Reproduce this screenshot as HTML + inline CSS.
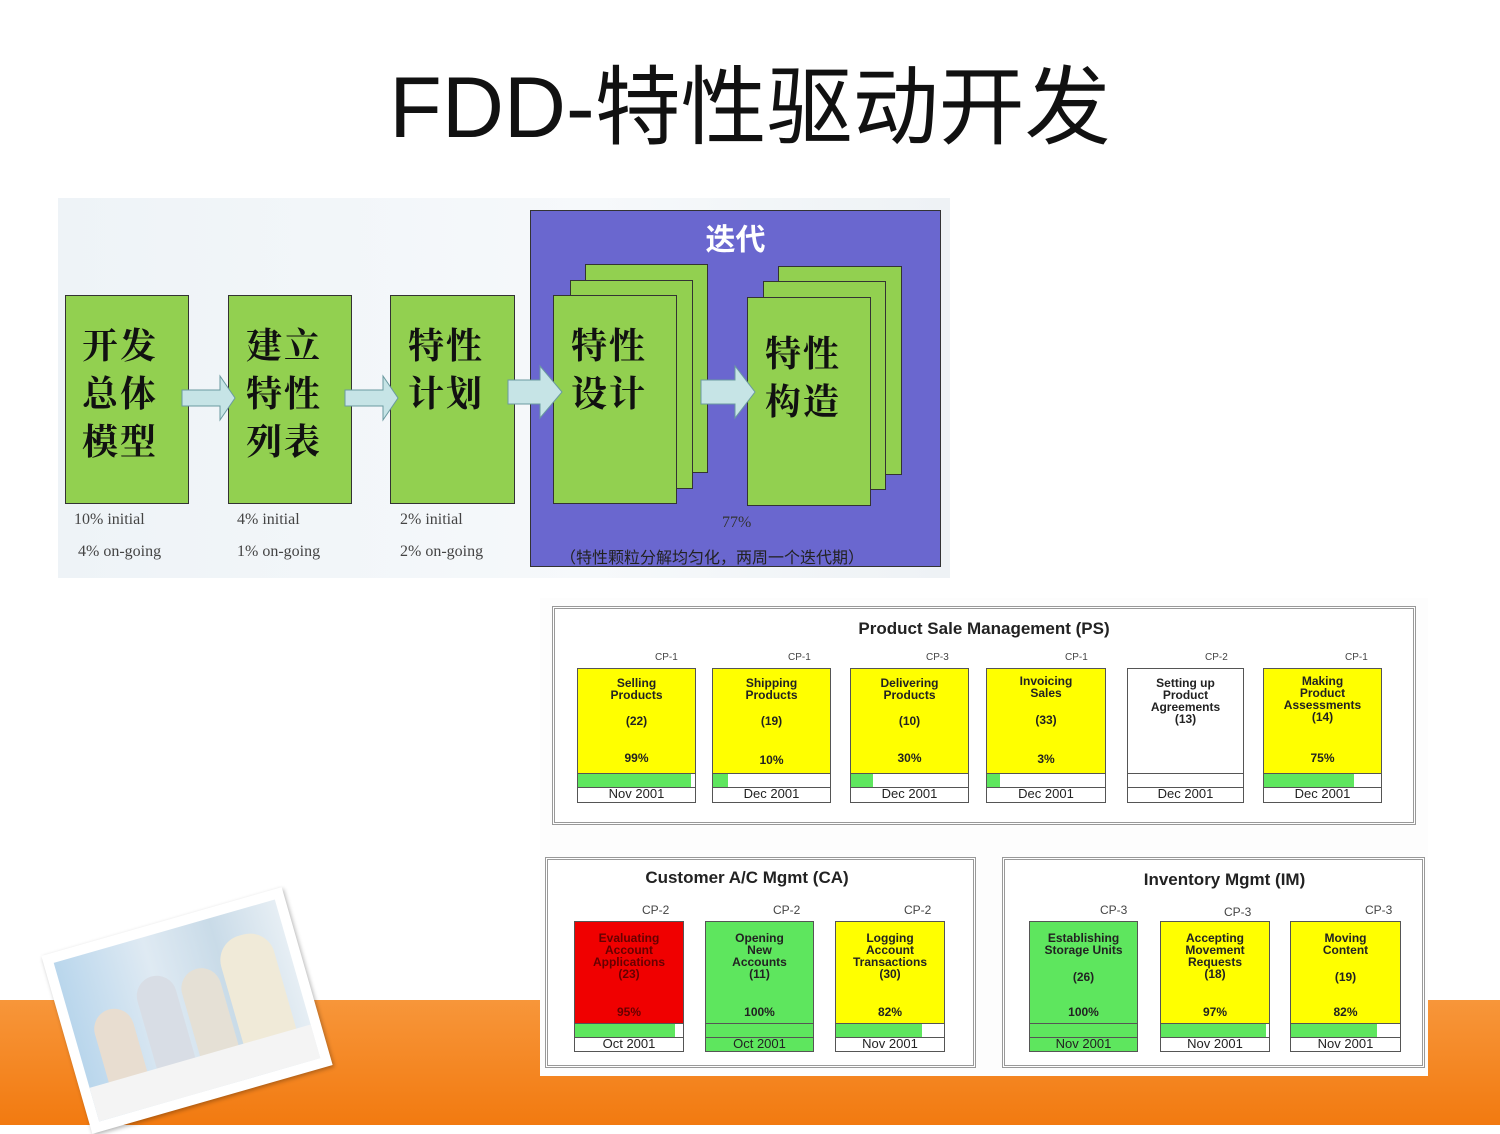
<!DOCTYPE html>
<html><head><meta charset="utf-8"><style>
*{margin:0;padding:0;box-sizing:border-box}
body{width:1500px;height:1125px;position:relative;overflow:hidden;background:#fff;font-family:"Liberation Sans","Noto Sans CJK SC",sans-serif}
.a{position:absolute}
.g{position:absolute;background:#92d050;border:1.5px solid #333}
.zh{font-family:"Noto Serif CJK SC","Liberation Serif",serif;font-weight:bold;font-size:36px;line-height:48px;color:#111;letter-spacing:2px}
.ser{font-family:"Liberation Serif",serif;font-size:16px;color:#444}
.card{position:absolute;border:1px solid #555;font-family:"Liberation Sans Narrow","Liberation Sans",sans-serif;font-weight:bold;font-size:12px;color:#222;text-align:center;line-height:12px}
.card .t{position:absolute;left:0;right:0}
.card .bar{position:absolute;left:0;right:0;background:#fff;border-top:1px solid #555}
.card .bar i{position:absolute;left:0;top:0;bottom:0;background:#5ee65e;display:block}
.card .d{position:absolute;left:0;right:0;bottom:0;background:#fff;border-top:1px solid #555;font-weight:normal;font-size:13px}
.cp{position:absolute;font-size:10px;color:#444;font-family:"Liberation Sans Narrow","Liberation Sans",sans-serif}
.arr{position:absolute}
</style></head><body>
<div class="a" style="left:0;top:1000px;width:1500px;height:125px;background:linear-gradient(#f7963a,#f27a10)"></div>
<div class="a" style="left:0;top:58px;width:1500px;text-align:center;font-size:86px;color:#111;font-family:'Liberation Sans','Noto Sans CJK SC',sans-serif;line-height:100px">FDD-特性驱动开发</div>

<!-- top diagram -->
<div class="a" style="left:58px;top:198px;width:892px;height:380px;background:linear-gradient(90deg,#eef3f7,#f6f9fb 60%,#eef2f5)"></div>
<div class="a" style="left:530px;top:210px;width:411px;height:357px;background:#6a67cf;border:1.5px solid #333"></div>
<div class="a" style="left:530px;top:215px;width:411px;text-align:center;color:#fff;font-size:30px;font-weight:bold">迭代</div>
<div class="g" style="left:65px;top:295px;width:124px;height:209px"></div>
<div class="g" style="left:228px;top:295px;width:124px;height:209px"></div>
<div class="g" style="left:390px;top:295px;width:125px;height:209px"></div>
<div class="g" style="left:585px;top:264px;width:123px;height:209px"></div>
<div class="g" style="left:570px;top:280px;width:123px;height:209px"></div>
<div class="g" style="left:553px;top:295px;width:124px;height:209px"></div>
<div class="g" style="left:778px;top:266px;width:124px;height:209px"></div>
<div class="g" style="left:763px;top:281px;width:123px;height:209px"></div>
<div class="g" style="left:747px;top:297px;width:124px;height:209px"></div>
<div class="a zh" style="left:82px;top:320px">开发<br>总体<br>模型</div>
<div class="a zh" style="left:246px;top:320px">建立<br>特性<br>列表</div>
<div class="a zh" style="left:408px;top:320px">特性<br>计划</div>
<div class="a zh" style="left:571px;top:320px">特性<br>设计</div>
<div class="a zh" style="left:765px;top:328px">特性<br>构造</div>
<svg class="arr" style="left:0;top:0" width="950" height="600">
<g fill="#c6e4e6" stroke="#6a9aa0" stroke-width="1">
<path d="M182 390h38v-14l15 22-15 22v-14h-38z"/>
<path d="M345 390h38v-14l15 22-15 22v-14h-38z"/>
<path d="M508 380h32v-14l22 26-22 26v-14h-32z"/>
<path d="M701 380h34v-14l20 26-20 26v-14h-34z"/>
</g></svg>
<div class="a ser" style="left:74px;top:511px">10% initial</div>
<div class="a ser" style="left:78px;top:543px">4% on-going</div>
<div class="a ser" style="left:237px;top:511px">4% initial</div>
<div class="a ser" style="left:237px;top:543px">1% on-going</div>
<div class="a ser" style="left:400px;top:511px">2% initial</div>
<div class="a ser" style="left:400px;top:543px">2% on-going</div>
<div class="a ser" style="left:722px;top:514px;color:#333">77%</div>
<div class="a" style="left:560px;top:544px;font-size:16px;color:#222">（特性颗粒分解均匀化，两周一个迭代期）</div>

<!-- bottom panel -->
<div class="a" style="left:540px;top:598px;width:888px;height:478px;background:#fdfdfd"></div>
<div class="a" style="left:552px;top:606px;width:864px;height:219px;border:3px double #999;background:#fff"></div>
<div class="a" style="left:552px;top:619px;width:864px;text-align:center;font-weight:bold;font-size:17px;color:#222">Product Sale Management (PS)</div>
<div class="a" style="left:545px;top:857px;width:431px;height:211px;border:3px double #999;background:#fff"></div>
<div class="a" style="left:1002px;top:857px;width:423px;height:211px;border:3px double #999;background:#fff"></div>
<div class="a" style="left:545px;top:868px;width:404px;text-align:center;font-weight:bold;font-size:17px;color:#222">Customer A/C Mgmt (CA)</div>
<div class="a" style="left:1002px;top:870px;width:445px;text-align:center;font-weight:bold;font-size:17px;color:#222">Inventory Mgmt (IM)</div>

<!-- PS cards -->
<div class="cp" style="left:655px;top:652px">CP-1</div>
<div class="card" style="left:577px;top:668px;width:119px;height:135px;background:#ffff00"><div class="t" style="top:8px">Selling<br>Products</div><div class="t" style="top:46px">(22)</div><div class="t" style="top:83px">99%</div><div class="bar" style="top:104px;height:17px"><i style="width:97%"></i></div><div class="d" style="height:15px">Nov 2001</div></div>
<div class="cp" style="left:788px;top:652px">CP-1</div>
<div class="card" style="left:712px;top:668px;width:119px;height:135px;background:#ffff00"><div class="t" style="top:8px">Shipping<br>Products</div><div class="t" style="top:46px">(19)</div><div class="t" style="top:85px">10%</div><div class="bar" style="top:104px;height:17px"><i style="width:13%"></i></div><div class="d" style="height:15px">Dec 2001</div></div>
<div class="cp" style="left:926px;top:652px">CP-3</div>
<div class="card" style="left:850px;top:668px;width:119px;height:135px;background:#ffff00"><div class="t" style="top:8px">Delivering<br>Products</div><div class="t" style="top:46px">(10)</div><div class="t" style="top:83px">30%</div><div class="bar" style="top:104px;height:17px"><i style="width:19%"></i></div><div class="d" style="height:15px">Dec 2001</div></div>
<div class="cp" style="left:1065px;top:652px">CP-1</div>
<div class="card" style="left:986px;top:668px;width:120px;height:135px;background:#ffff00"><div class="t" style="top:6px">Invoicing<br>Sales</div><div class="t" style="top:45px">(33)</div><div class="t" style="top:84px">3%</div><div class="bar" style="top:104px;height:17px"><i style="width:11%"></i></div><div class="d" style="height:15px">Dec 2001</div></div>
<div class="cp" style="left:1205px;top:652px">CP-2</div>
<div class="card" style="left:1127px;top:668px;width:117px;height:135px;background:#fff"><div class="t" style="top:8px">Setting up<br>Product<br>Agreements<br>(13)</div><div class="bar" style="top:104px;height:17px"></div><div class="d" style="height:15px">Dec 2001</div></div>
<div class="cp" style="left:1345px;top:652px">CP-1</div>
<div class="card" style="left:1263px;top:668px;width:119px;height:135px;background:#ffff00"><div class="t" style="top:6px">Making<br>Product<br>Assessments<br>(14)</div><div class="t" style="top:83px">75%</div><div class="bar" style="top:104px;height:17px"><i style="width:77%"></i></div><div class="d" style="height:15px">Dec 2001</div></div>

<!-- CA cards -->
<div class="cp" style="left:642px;top:903px;font-size:12px">CP-2</div>
<div class="card" style="left:574px;top:921px;width:110px;height:131px;background:#f00000;color:#600"><div class="t" style="top:10px">Evaluating<br>Account<br>Applications<br>(23)</div><div class="t" style="top:84px">95%</div><div class="bar" style="top:101px;height:17px"><i style="width:93%"></i></div><div class="d" style="height:14px;color:#222">Oct 2001</div></div>
<div class="cp" style="left:773px;top:903px;font-size:12px">CP-2</div>
<div class="card" style="left:705px;top:921px;width:109px;height:131px;background:#5ee65e"><div class="t" style="top:10px">Opening<br>New<br>Accounts<br>(11)</div><div class="t" style="top:84px">100%</div><div class="bar" style="top:101px;height:17px;background:#5ee65e"></div><div class="d" style="height:14px;background:#5ee65e">Oct 2001</div></div>
<div class="cp" style="left:904px;top:903px;font-size:12px">CP-2</div>
<div class="card" style="left:835px;top:921px;width:110px;height:131px;background:#ffff00"><div class="t" style="top:10px">Logging<br>Account<br>Transactions<br>(30)</div><div class="t" style="top:84px">82%</div><div class="bar" style="top:101px;height:17px"><i style="width:80%"></i></div><div class="d" style="height:14px">Nov 2001</div></div>

<!-- IM cards -->
<div class="cp" style="left:1100px;top:903px;font-size:12px">CP-3</div>
<div class="card" style="left:1029px;top:921px;width:109px;height:131px;background:#5ee65e"><div class="t" style="top:10px">Establishing<br>Storage Units</div><div class="t" style="top:49px">(26)</div><div class="t" style="top:84px">100%</div><div class="bar" style="top:101px;height:17px;background:#5ee65e"></div><div class="d" style="height:14px;background:#5ee65e">Nov 2001</div></div>
<div class="cp" style="left:1224px;top:905px;font-size:12px">CP-3</div>
<div class="card" style="left:1160px;top:921px;width:110px;height:131px;background:#ffff00"><div class="t" style="top:10px">Accepting<br>Movement<br>Requests<br>(18)</div><div class="t" style="top:84px">97%</div><div class="bar" style="top:101px;height:17px"><i style="width:97%"></i></div><div class="d" style="height:14px">Nov 2001</div></div>
<div class="cp" style="left:1365px;top:903px;font-size:12px">CP-3</div>
<div class="card" style="left:1290px;top:921px;width:111px;height:131px;background:#ffff00"><div class="t" style="top:10px">Moving<br>Content</div><div class="t" style="top:49px">(19)</div><div class="t" style="top:84px">82%</div><div class="bar" style="top:101px;height:17px"><i style="width:79%"></i></div><div class="d" style="height:14px">Nov 2001</div></div>

<!-- photo -->
<div class="a" style="left:62px;top:918px;width:250px;height:185px;background:#fff;transform:rotate(-16deg);transform-origin:center;box-shadow:1px 2px 4px rgba(0,0,0,.3)">
<div style="position:absolute;left:10px;top:10px;right:10px;bottom:10px;background:linear-gradient(90deg,#b9d6ec,#dfeaf3 40%,#c9dbe8 70%,#e6eef4)">
<div style="position:absolute;left:20px;top:60px;width:40px;height:90px;border-radius:20px 20px 4px 4px;background:#e8ddd0"></div>
<div style="position:absolute;left:70px;top:40px;width:40px;height:110px;border-radius:20px 20px 4px 4px;background:#d8dde5"></div>
<div style="position:absolute;left:115px;top:45px;width:40px;height:105px;border-radius:20px 20px 4px 4px;background:#e5e0d5"></div>
<div style="position:absolute;left:160px;top:25px;width:55px;height:125px;border-radius:25px 25px 4px 4px;background:#f0ead8"></div>
<div style="position:absolute;left:0;right:0;bottom:0;height:35px;background:#f4f4f4"></div>
</div></div>
</body></html>
